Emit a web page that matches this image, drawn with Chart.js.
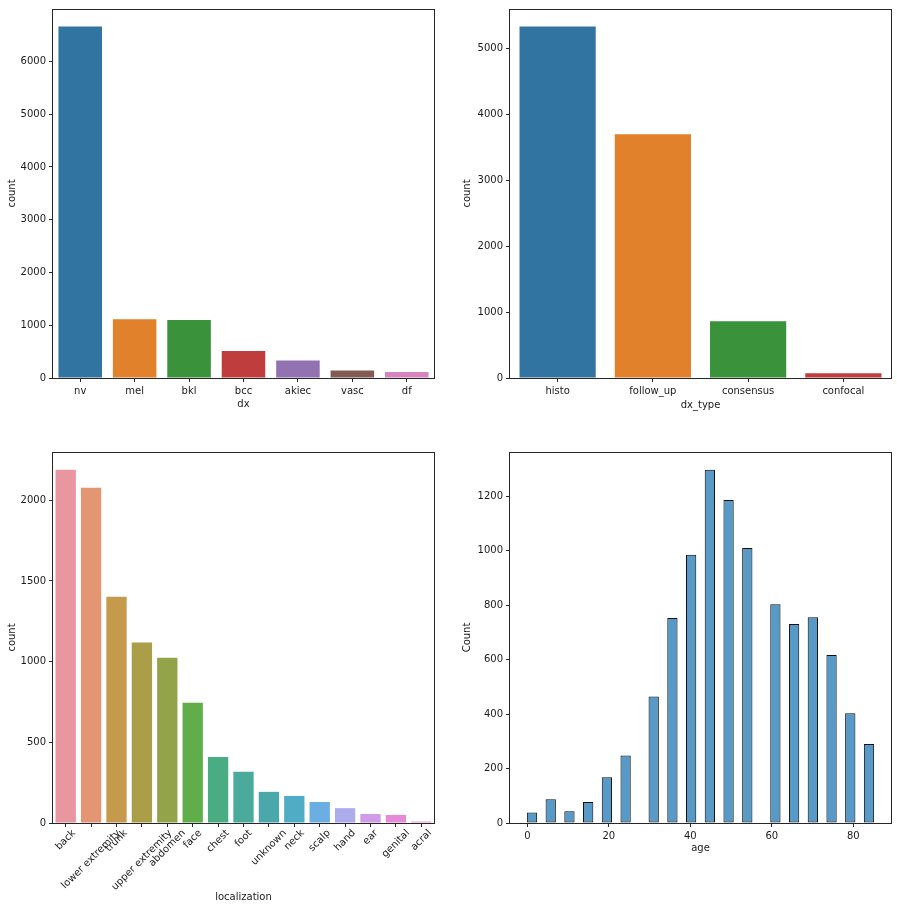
<!DOCTYPE html>
<html lang="en">
<head>
    <meta charset="UTF-8"/>
    <title>skin lesion overview</title>
    <script src="https://cdn.jsdelivr.net/npm/chart.js@4.4.1/dist/chart.umd.min.js"></script>
    <style>
        body { margin: 0; background: #fff; }
        canvas { position: absolute; }
    </style>
</head>
<body>
<canvas id="dxChart" width="450" height="440" style="left:0;top:0"></canvas>
<canvas id="typeChart" width="447" height="440" style="left:450px;top:0"></canvas>
<canvas id="locChart" width="450" height="470" style="left:0;top:440px"></canvas>
<canvas id="ageChart" width="447" height="470" style="left:450px;top:440px"></canvas>
<script>
    // diagnosis counts
    const dxLabels = ['nv', 'mel', 'bkl', 'bcc', 'akiec', 'vasc', 'df'];
    const dxCounts = [6660, 1113, 1097, 512, 332, 142, 114];
    const dxColors = ['#3274a1', '#e1812c', '#3a923a', '#c03d3e', '#9372b2', '#845b53', '#d684bd'];

    // diagnosis type counts
    const typeLabels = ['histo', 'follow_up', 'consensus', 'confocal'];
    const typeCounts = [5335, 3700, 860, 72];
    const typeColors = ['#3274a1', '#e1812c', '#3a923a', '#c03d3e'];

    // localization counts
    const locLabels = ['back', 'lower extremity', 'trunk', 'upper extremity', 'abdomen', 'face', 'chest',
        'foot', 'unknown', 'neck', 'scalp', 'hand', 'ear', 'genital', 'acral'];
    const locCounts = [2190, 2078, 1403, 1118, 1024, 745, 409, 318, 193, 168, 130, 92, 56, 50, 9];
    const locColors = ['#e8969f', '#e49572', '#c69a4c', '#ab9e48', '#92a34a', '#60ae4a', '#4aac82',
        '#4aaa9b', '#4ba8aa', '#50acc4', '#6aaee2', '#acabec', '#d09ce8', '#e68ad8', '#e892c2'];

    // age histogram (37 bins over 0..85)
    const ageValues = [0, 5, 10, 15, 20, 25, 30, 35, 40, 45, 50, 55, 60, 65, 70, 75, 80, 85];
    const ageCounts = [39, 87, 43, 77, 168, 248, 465, 753, 985, 1298, 1187, 1010, 804, 731, 756, 617, 403, 290];
    const ageBins = 37;

    const textColor = '#1a1a1a';
    const axisColor = '#262626';
    Chart.defaults.font.family = '"DejaVu Sans", sans-serif';
    Chart.defaults.font.size = 10;
    Chart.defaults.color = textColor;

    // matplotlib style box around the axes
    const frame = {
        id: 'frame',
        afterDraw(chart) {
            const a = chart.chartArea;
            const ctx = chart.ctx;
            ctx.save();
            ctx.strokeStyle = axisColor;
            ctx.lineWidth = 1;
            ctx.strokeRect(Math.round(a.left) - 0.5, Math.round(a.top) + 0.5,
                Math.round(a.right - a.left) + 1, Math.round(a.bottom - a.top));
            ctx.restore();
        }
    };

    // 45 degree labels centred under the tick like matplotlib
    const slantLabels = {
        id: 'slantLabels',
        afterDraw(chart) {
            const scale = chart.scales.x;
            const ctx = chart.ctx;
            ctx.save();
            ctx.font = '10px "DejaVu Sans"';
            ctx.fillStyle = textColor;
            ctx.textAlign = 'center';
            ctx.textBaseline = 'middle';
            chart.data.labels.forEach((lab, i) => {
                const w = ctx.measureText(lab).width;
                const x = scale.getPixelForTick(i);
                const y = chart.chartArea.bottom + 5 + (w + 10) * Math.SQRT1_2 / 2;
                ctx.save();
                ctx.translate(x, y);
                ctx.rotate(-Math.PI / 4);
                ctx.fillText(lab, 0, 0);
                ctx.restore();
            });
            ctx.restore();
        }
    };

    // ticks on multiples of step only (no bound ticks)
    function stepTicks(step) {
        return scale => {
            const t = [];
            for (let v = Math.ceil(scale.min / step) * step; v <= scale.max; v += step) t.push({value: v});
            scale.ticks = t;
        };
    }

    function makeOptions(p) {
        const tickGrid = {display: true, drawOnChartArea: false, offset: false, color: axisColor, tickLength: 4};
        return {
            responsive: false,
            animation: false,
            layout: {padding: {top: p.top, right: p.right, left: 0, bottom: 0}},
            plugins: {legend: {display: false}, tooltip: {enabled: false}},
            scales: {
                x: Object.assign({
                    grid: tickGrid,
                    border: {display: false},
                    ticks: {padding: 3, maxRotation: 0, autoSkip: false, display: p.xTicks !== false},
                    title: {display: true, text: p.xTitle, padding: {top: 0, bottom: p.xTitlePad}},
                    afterFit: s => { s.height = p.xHeight; }
                }, p.xExtra || {}),
                y: {
                    min: 0,
                    max: p.yMax,
                    grid: tickGrid,
                    border: {display: false},
                    afterBuildTicks: stepTicks(p.yStep),
                    ticks: {padding: 3, callback: v => String(v)},
                    title: {display: true, text: p.yTitle, padding: {top: p.yTitlePad, bottom: 0}},
                    afterFit: s => { s.width = p.yWidth; }
                }
            }
        };
    }

    function countChart(id, labels, counts, colors, p, plugins) {
        return new Chart(document.getElementById(id), {
            type: 'bar',
            data: {
                labels: labels,
                datasets: [{
                    data: counts,
                    backgroundColor: colors,
                    categoryPercentage: 0.8,
                    barPercentage: 1
                }]
            },
            options: makeOptions(p),
            plugins: plugins
        });
    }

    countChart('dxChart', dxLabels, dxCounts, dxColors, {
        top: 7, right: 16, xHeight: 62, yWidth: 53, yMax: Math.max(...dxCounts) * 1.05, yStep: 1000,
        xTitle: 'dx', xTitlePad: 30, yTitle: 'count', yTitlePad: 6
    }, [frame]);

    countChart('typeChart', typeLabels, typeCounts, typeColors, {
        top: 7, right: 6, xHeight: 62, yWidth: 60, yMax: Math.max(...typeCounts) * 1.05, yStep: 1000,
        xTitle: 'dx_type', xTitlePad: 29, yTitle: 'count', yTitlePad: 11
    }, [frame]);

    countChart('locChart', locLabels, locCounts, locColors, {
        top: 12, right: 16, xHeight: 87, yWidth: 53, yMax: Math.max(...locCounts) * 1.05, yStep: 500,
        xTitle: 'localization', xTitlePad: 7, yTitle: 'count', yTitlePad: 6, xTicks: false
    }, [frame, slantLabels]);

    // histogram: each age falls in one of the equal-width bins
    const binWidth = 85 / ageBins;
    const agePoints = ageValues.map((a, i) => {
        const bin = Math.min(ageBins - 1, Math.floor(a / binWidth));
        return {x: (bin + 0.5) * binWidth, y: ageCounts[i]};
    });

    new Chart(document.getElementById('ageChart'), {
        type: 'bar',
        data: {
            datasets: [{
                data: agePoints,
                backgroundColor: 'rgba(31, 119, 180, 0.75)',
                borderColor: '#111',
                borderWidth: 1,
                borderSkipped: false,
                categoryPercentage: 0.55,
                barPercentage: 1
            }]
        },
        options: makeOptions({
            top: 12, right: 6, xHeight: 87, yWidth: 60, yMax: Math.max(...ageCounts) * 1.05, yStep: 200,
            xTitle: 'age', xTitlePad: 56, yTitle: 'Count', yTitlePad: 11,
            xExtra: {
                type: 'linear', offset: false, min: -4.25, max: 89.25,
                afterBuildTicks: stepTicks(20),
                ticks: {padding: 3, maxRotation: 0, callback: v => String(v)}
            }
        }),
        plugins: [frame]
    });
</script>
</body>
</html>
